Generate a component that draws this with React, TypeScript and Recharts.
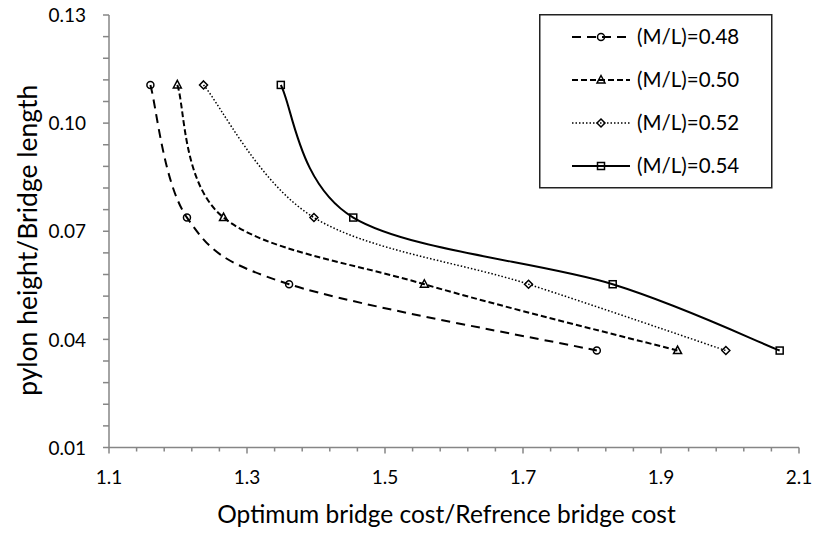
import React from 'react'
import { LineChart, Line, XAxis, YAxis, Legend } from 'recharts'

// pylon height / bridge length (same four heights for every series)
const heightRatio = [0.1106, 0.0738, 0.0553, 0.0369]
// optimum cost / reference cost, one list per M/L value
const costML048 = [1.160, 1.213, 1.361, 1.807]
const costML050 = [1.199, 1.266, 1.557, 1.924]
const costML052 = [1.237, 1.397, 1.708, 1.994]
const costML054 = [1.349, 1.454, 1.830, 2.072]
const seriesNames = ['(M/L)=0.48', '(M/L)=0.50', '(M/L)=0.52', '(M/L)=0.54']

const xMajorTicks = [1.1, 1.3, 1.5, 1.7, 1.9, 2.1]
const xTickLabels = ['1.1', '1.3', '1.5', '1.7', '1.9', '2.1']
const yMajorTicks = [0.01, 0.04, 0.07, 0.10, 0.13]
const yTickLabels = ['0.01', '0.04', '0.07', '0.10', '0.13']

const FONT = 'Lato, "Open Sans", sans-serif'
const AXIS = '#868686'

// 5 minor steps between each pair of major ticks
const withMinor = (majors: number[]) => {
  const out: number[] = []
  majors.forEach((m, i) => {
    out.push(m)
    if (i < majors.length - 1) {
      const step = (majors[i + 1] - m) / 5
      for (let k = 1; k < 5; k++) out.push(+(m + k * step).toFixed(4))
    }
  })
  return out
}
const xTicks = withMinor(xMajorTicks)
const yTicks = withMinor(yMajorTicks)

const toPoints = (xs: number[]) => xs.map((x, i) => ({ x, y: heightRatio[i] }))

// excel-like smoothed line (catmull-rom style bezier)
const smoothCurve = (context: any) => {
  let pts: number[][] = []
  return {
    areaStart() {},
    areaEnd() {},
    lineStart() { pts = [] },
    point(x: number, y: number) { pts.push([+x, +y]) },
    lineEnd() {
      if (!pts.length) return
      context.moveTo(pts[0][0], pts[0][1])
      for (let i = 0; i < pts.length - 1; i++) {
        const p0 = pts[i - 1] || pts[i]
        const p1 = pts[i]
        const p2 = pts[i + 1]
        const p3 = pts[i + 2] || p2
        context.bezierCurveTo(
          p1[0] + (p2[0] - p0[0]) / 6, p1[1] + (p2[1] - p0[1]) / 6,
          p2[0] - (p3[0] - p1[0]) / 6, p2[1] - (p3[1] - p1[1]) / 6,
          p2[0], p2[1]
        )
      }
    },
  }
}

type Shape = 'circle' | 'triangle' | 'diamond' | 'square'

const Marker = ({ shape, cx, cy }: { shape: Shape; cx: number; cy: number }) => {
  const s = { fill: 'none', stroke: '#000', strokeWidth: 1.5 }
  if (shape === 'circle') return <circle cx={cx} cy={cy} r={3.5} {...s} />
  if (shape === 'triangle') return <polygon points={`${cx},${cy - 4.5} ${cx + 4},${cy + 3} ${cx - 4},${cy + 3}`} {...s} />
  if (shape === 'diamond') return <polygon points={`${cx},${cy - 4} ${cx + 4},${cy} ${cx},${cy + 4} ${cx - 4},${cy}`} {...s} />
  return <rect x={cx - 3.5} y={cy - 3.5} width={7} height={7} {...s} />
}

const series = [
  { name: seriesNames[0], data: toPoints(costML048), shape: 'circle' as Shape, dash: '9 6', width: 2 },
  { name: seriesNames[1], data: toPoints(costML050), shape: 'triangle' as Shape, dash: '6 3', width: 2 },
  { name: seriesNames[2], data: toPoints(costML052), shape: 'diamond' as Shape, dash: '1.5 2', width: 1.5 },
  { name: seriesNames[3], data: toPoints(costML054), shape: 'square' as Shape, dash: undefined, width: 2 },
]

const isMajor = (list: number[], v: number) => list.findIndex(m => Math.abs(m - v) < 1e-6)

const XTick = ({ x, y, payload }: any) => {
  const idx = isMajor(xMajorTicks, payload.value)
  return (
    <g>
      <line x1={x} x2={x} y1={y} y2={y + (idx >= 0 ? 6 : 4)} stroke={AXIS} strokeWidth={1.5} />
      {idx >= 0 && (
        <text x={x} y={y + 36} textAnchor="middle" fontSize={19} fontFamily={FONT} fill="#000">{xTickLabels[idx]}</text>
      )}
    </g>
  )
}

const YTick = ({ x, y, payload }: any) => {
  const idx = isMajor(yMajorTicks, payload.value)
  return (
    <g>
      <line x1={x - 6} x2={x} y1={y} y2={y} stroke={AXIS} strokeWidth={1.5} />
      {idx >= 0 && (
        <text x={x - 23} y={y} dy="0.38em" textAnchor="end" fontSize={19} fontFamily={FONT} fill="#000">{yTickLabels[idx]}</text>
      )}
    </g>
  )
}

const XTitle = (props: any) => {
  const vb = props.viewBox || { x: 109, y: 447.5, width: 690, height: 78 }
  return (
    <text x={vb.x + vb.width / 2 - 7.5} y={vb.y + 75.5} textAnchor="middle" fontSize={24.5} fontFamily={FONT} fill="#000">
      Optimum bridge cost/Refrence bridge cost
    </text>
  )
}

const YTitle = (props: any) => {
  const vb = props.viewBox || { x: 0, y: 15, width: 109, height: 432.5 }
  const cy = vb.y + vb.height / 2 + 9
  return (
    <text transform={`translate(${vb.x + 37}, ${cy}) rotate(-90)`} textAnchor="middle" fontSize={26.5} fontFamily={FONT} fill="#000">
      pylon height/Bridge length
    </text>
  )
}

const LegendBox = () => (
  <svg width={234} height={175} style={{ display: 'block' }}>
    <rect x={0.75} y={0.75} width={232} height={173} fill="#fff" stroke="#222" strokeWidth={1.5} />
    {series.map((s, i) => {
      const cy = 23 + i * 43
      return (
        <g key={s.name}>
          <line x1={33} x2={91} y1={cy} y2={cy} stroke="#000" strokeWidth={s.width} strokeDasharray={s.dash} />
          <Marker shape={s.shape} cx={62} cy={cy} />
          <text x={98} y={cy} dy="0.36em" fontSize={20.5} fontFamily={FONT} fill="#000">{s.name}</text>
        </g>
      )
    })}
  </svg>
)

export default function App() {
  return (
    <div style={{ position: 'absolute', left: 0, top: 0 }}>
      <LineChart width={816} height={533} margin={{ top: 15, right: 17, left: 0, bottom: 7.5 }}>
        <XAxis
          type="number"
          dataKey="x"
          domain={[1.1, 2.1]}
          ticks={xTicks}
          interval={0}
          allowDataOverflow
          height={78}
          tickSize={0}
          tickMargin={0}
          tickLine={false}
          axisLine={{ stroke: AXIS, strokeWidth: 1.5 }}
          tick={<XTick />}
          label={XTitle}
        />
        <YAxis
          type="number"
          dataKey="y"
          domain={[0.01, 0.13]}
          ticks={yTicks}
          interval={0}
          allowDataOverflow
          width={109}
          tickSize={0}
          tickMargin={0}
          tickLine={false}
          axisLine={{ stroke: AXIS, strokeWidth: 1.5 }}
          tick={<YTick />}
          label={YTitle}
        />
        <Legend
          layout="vertical"
          align="center"
          verticalAlign="middle"
          content={() => <LegendBox />}
          wrapperStyle={{ left: 539, top: 14, width: 234, height: 175 }}
        />
        {series.map(s => (
          <Line
            key={s.name}
            name={s.name}
            data={s.data}
            dataKey="y"
            type={smoothCurve as any}
            stroke="#000"
            strokeWidth={s.width}
            strokeDasharray={s.dash}
            dot={(p: any) => <Marker key={`${s.name}-${p.index}`} shape={s.shape} cx={p.cx} cy={p.cy} />}
            activeDot={false}
            isAnimationActive={false}
          />
        ))}
      </LineChart>
    </div>
  )
}
